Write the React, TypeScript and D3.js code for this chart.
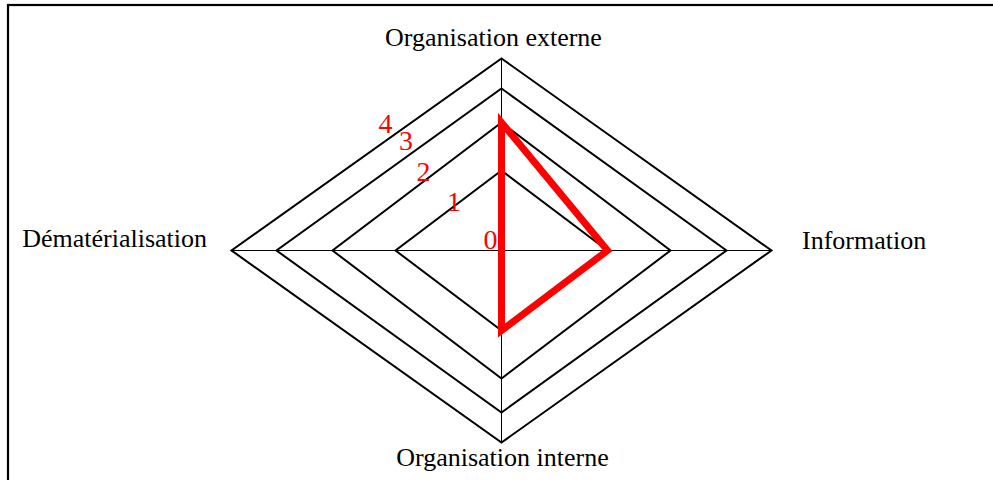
import { useRef, useEffect } from 'react'
import * as d3 from 'd3'

// axes, clockwise from the top
const axes = ['Organisation externe', 'Information', 'Organisation interne', 'Dématérialisation']
const values = [2, 1, 1, 0]
const levels = [0, 1, 2, 3, 4]
const gridLevels = [1, 2, 3, 4]

const App = () => {
  const ref = useRef<SVGSVGElement>(null)

  useEffect(() => {
    const totalWidth = 993,
      totalHeight = 480,
      cx = 501.5,
      cy = 250.5

    const svg = d3.select(ref.current)
    svg.attr('width', totalWidth).attr('height', totalHeight)
    svg.selectAll('*').remove()

    // radial scales (the value axis is not evenly spaced)
    const rx = d3.scaleLinear().domain(levels).range([0, 106, 169, 225, 270])
    const ry = d3.scaleLinear().domain(levels).range([0, 80, 128, 162, 192])

    // unit directions for top, right, bottom, left
    const dirs = [[0, -1], [1, 0], [0, 1], [-1, 0]]
    const point = (i: number, v: number): [number, number] =>
      [cx + dirs[i][0] * rx(v), cy + dirs[i][1] * ry(v)]

    // frame
    svg.append('rect')
      .attr('x', 8).attr('y', 5)
      .attr('width', 1000).attr('height', 500)
      .attr('fill', 'white')
      .attr('stroke', '#000')
      .attr('stroke-width', 2.2)

    const line = d3.line<[number, number]>().curve(d3.curveLinearClosed)

    // spokes
    svg.append('g').selectAll('line')
      .data(axes)
      .enter()
      .append('line')
        .attr('x1', cx).attr('y1', cy)
        .attr('x2', (d, i) => point(i, 4)[0])
        .attr('y2', (d, i) => point(i, 4)[1])
        .attr('stroke', '#000')
        .attr('stroke-width', 1)

    // grid diamonds
    svg.append('g').selectAll('path')
      .data(gridLevels)
      .enter()
      .append('path')
        .attr('d', l => line(axes.map((a, i) => point(i, l))))
        .attr('fill', 'none')
        .attr('stroke', '#000')
        .attr('stroke-width', 2)

    // series
    svg.append('path')
      .attr('d', line(values.map((v, i) => point(i, v))))
      .attr('fill', 'none')
      .attr('stroke', '#ff0000')
      .attr('stroke-width', 7)
      .attr('stroke-linejoin', 'miter')

    const font = '"Liberation Serif", "Times New Roman", serif'

    // value labels along the upper-left
    const labelDX = d3.scaleLinear().domain(levels).range([-11, -47.5, -78, -95.5, -116])
    const labelDY = d3.scaleLinear().domain(levels).range([-2, -40, -70, -101, -118])
    svg.append('g').selectAll('text')
      .data(levels)
      .enter()
      .append('text')
        .attr('x', l => cx + labelDX(l))
        .attr('y', l => cy + labelDY(l))
        .attr('text-anchor', 'middle')
        .attr('fill', '#ff0000')
        .style('font-family', font)
        .style('font-size', '28px')
        .text(l => l)

    // axis names
    const namePos = [
      { x: cx - 8, y: 46, anchor: 'middle' },
      { x: 802, y: 249, anchor: 'start' },
      { x: cx + 1, y: 466, anchor: 'middle' },
      { x: 207, y: 247, anchor: 'end' }
    ]
    svg.append('g').selectAll('text')
      .data(axes)
      .enter()
      .append('text')
        .attr('x', (d, i) => namePos[i].x)
        .attr('y', (d, i) => namePos[i].y)
        .attr('text-anchor', (d, i) => namePos[i].anchor)
        .attr('fill', '#000')
        .style('font-family', font)
        .style('font-size', '26px')
        .text(d => d)
  }, [])

  return (
    <svg ref={ ref } style={ { position: 'absolute', left: 0, top: 0, display: 'block' } }></svg>
  )
}

export default App
